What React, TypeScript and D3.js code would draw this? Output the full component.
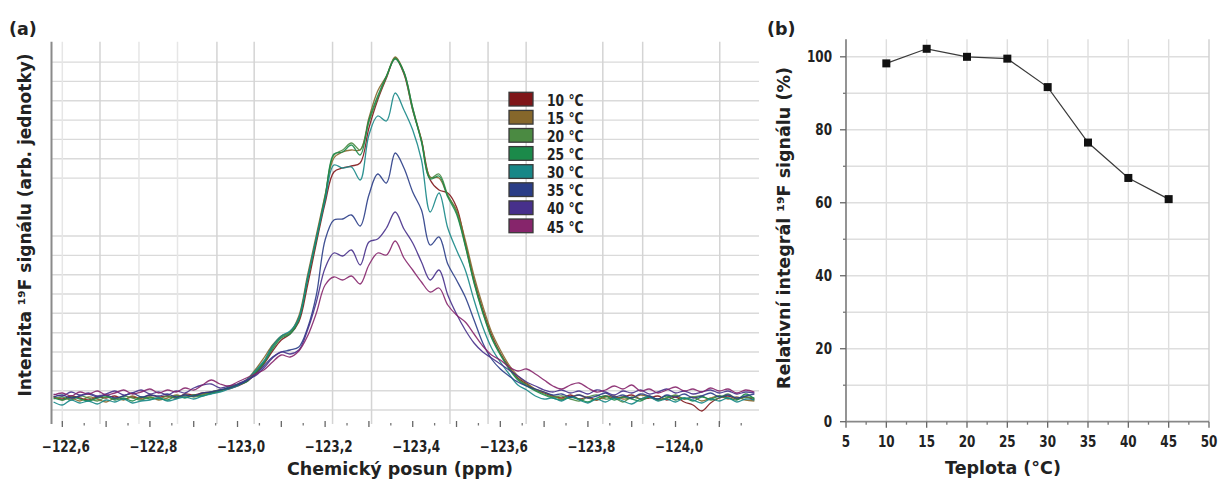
import React, { useEffect, useRef } from "react";
import * as d3 from "d3";

const W = 1220;
const H = 483;
const FONT = "'DejaVu Sans', Verdana, sans-serif";

// (a) 19F spectra, chemical shift (ppm), intensity in arb. units
const shifts = [
  -122.58, -122.6, -122.62, -122.64, -122.66, -122.68, -122.7, -122.72, -122.74, -122.76,
  -122.78, -122.8, -122.82, -122.84, -122.86, -122.88, -122.9, -122.92, -122.94, -122.96,
  -122.98, -123.0, -123.02, -123.04, -123.06, -123.08, -123.1, -123.12, -123.14, -123.16,
  -123.18, -123.2, -123.22, -123.24, -123.26, -123.28, -123.3, -123.32, -123.34, -123.36,
  -123.38, -123.4, -123.42, -123.44, -123.46, -123.48, -123.5, -123.52, -123.54, -123.56,
  -123.58, -123.6, -123.62, -123.64, -123.66, -123.68, -123.7, -123.72, -123.74, -123.76,
  -123.78, -123.8, -123.82, -123.84, -123.86, -123.88, -123.9, -123.92, -123.94, -123.96,
  -123.98, -124.0, -124.02, -124.04, -124.06, -124.08, -124.1, -124.12, -124.14, -124.16,
  -124.18,
];

const int10 = [
  27, 25, 28, 26, 24, 27, 26, 28, 25, 27, 26, 29, 27, 28, 26, 30, 29, 31, 32, 34, 35, 38,
  42, 50, 60, 73, 84, 90, 102, 139, 181, 221, 252, 256, 258, 261, 296, 324, 346, 366, 350, 314,
  284, 244, 234, 231, 217, 181, 144, 114, 89, 71, 57, 46, 40, 34, 31, 28,
  26, 29, 25, 27, 24, 28, 26, 27, 29, 25, 26, 28, 24, 27, 22, 19, 13, 21, 26, 28, 25, 27, 24,
];
const int15 = [
  28, 24, 26, 23, 27, 25, 22, 26, 24, 28, 25, 27, 24, 26, 29, 27, 28, 30, 31, 33, 36, 39,
  44, 54, 66, 79, 88, 92, 108, 149, 189, 229, 266, 272, 274, 274, 306, 333, 348, 367, 352, 316,
  284, 247, 246, 228, 214, 184, 148, 118, 92, 74, 59, 48, 41, 35, 32, 28,
  25, 27, 29, 26, 24, 27, 28, 25, 26, 29, 27, 24, 26, 28, 25, 27, 23, 26, 28, 25, 27, 24, 23,
];
const int20 = [
  25, 27, 24, 28, 26, 23, 27, 25, 28, 26, 24, 27, 25, 28, 26, 29, 27, 29, 32, 34, 36, 40,
  43, 52, 62, 77, 87, 91, 106, 146, 186, 228, 269, 274, 281, 274, 302, 326, 347, 366, 351, 314,
  283, 246, 250, 229, 212, 179, 142, 112, 87, 70, 56, 45, 39, 34, 30, 27,
  28, 25, 23, 27, 29, 25, 26, 22, 27, 25, 28, 24, 26, 29, 25, 27, 28, 24, 26, 30, 25, 27, 26,
];
const int25 = [
  26, 24, 27, 25, 23, 26, 28, 24, 26, 23, 27, 25, 26, 24, 28, 26, 29, 28, 31, 33, 37, 39,
  42, 51, 61, 75, 86, 90, 104, 144, 184, 226, 270, 272, 279, 269, 304, 328, 348, 365, 352, 316,
  282, 245, 248, 227, 210, 178, 141, 111, 86, 69, 55, 44, 38, 33, 29, 26,
  24, 27, 25, 22, 26, 28, 24, 27, 25, 23, 27, 25, 28, 24, 26, 23, 27, 25, 28, 26, 24, 30, 25,
];
const int30 = [
  22, 19, 24, 21, 23, 20, 24, 22, 25, 21, 23, 24, 26, 23, 25, 27, 25, 28, 30, 32, 35, 38,
  44, 53, 63, 78, 88, 93, 106, 146, 186, 224, 259, 256, 257, 244, 289, 308, 303, 331, 314, 294,
  264, 212, 231, 196, 174, 154, 124, 97, 76, 62, 50, 39, 34, 28, 25, 26,
  23, 27, 24, 21, 25, 22, 26, 23, 20, 25, 27, 23, 25, 22, 26, 24, 21, 25, 23, 26, 22, 25, 24,
];
const int35 = [
  27, 29, 26, 28, 30, 27, 29, 26, 28, 31, 27, 29, 28, 30, 27, 29, 28, 31, 32, 34, 36, 39,
  43, 49, 58, 67, 72, 74, 77, 96, 129, 184, 204, 205, 209, 198, 229, 250, 241, 271, 256, 232,
  214, 179, 187, 160, 144, 127, 104, 81, 65, 55, 48, 42, 38, 35, 32, 29,
  30, 27, 29, 26, 28, 31, 27, 29, 26, 30, 28, 25, 29, 27, 30, 26, 28, 31, 27, 29, 26, 28, 30,
];
const int40 = [
  30, 28, 32, 29, 31, 28, 30, 33, 29, 31, 34, 30, 32, 29, 33, 31, 36, 39, 40, 36, 38, 40,
  44, 48, 56, 66, 72, 70, 74, 94, 122, 156, 171, 168, 174, 159, 182, 185, 196, 212, 195, 181,
  162, 144, 154, 129, 110, 94, 81, 72, 66, 60, 54, 48, 42, 38, 34, 32,
  34, 31, 33, 30, 34, 32, 29, 33, 31, 34, 30, 32, 35, 31, 33, 30, 32, 34, 31, 33, 30, 32, 31,
];
const int45 = [
  29, 31, 28, 32, 30, 33, 29, 31, 34, 30, 32, 35, 31, 34, 32, 36, 34, 39, 44, 40, 38, 42,
  46, 50, 54, 62, 69, 67, 73, 88, 111, 139, 147, 144, 148, 140, 159, 171, 169, 183, 166, 154,
  142, 132, 136, 119, 109, 102, 90, 78, 69, 64, 57, 53, 55, 50, 44, 38,
  35, 39, 41, 36, 32, 34, 38, 35, 39, 33, 35, 31, 34, 37, 33, 35, 32, 36, 33, 35, 31, 34, 32,
];

const seriesLabels = ["10 °C", "15 °C", "20 °C", "25 °C", "30 °C", "35 °C", "40 °C", "45 °C"];
const seriesColors = ["#7f1619", "#86672b", "#4b8a42", "#1b8a4a", "#178787", "#2a3d87", "#47308b", "#86256b"];
const spectra = [int10, int15, int20, int25, int30, int35, int40, int45];

const shiftLabelTicks = [-122.6, -122.8, -123.0, -123.2, -123.4, -123.6, -123.8, -124.0];
const shiftMajorTicks = [
  -122.6, -122.7, -122.8, -122.9, -123.0, -123.1, -123.2, -123.3,
  -123.4, -123.5, -123.6, -123.7, -123.8, -123.9, -124.0, -124.1,
];
const shiftMinorTicks = [
  -122.65, -122.75, -122.85, -122.95, -123.05, -123.15, -123.25, -123.35,
  -123.45, -123.55, -123.65, -123.75, -123.85, -123.95, -124.05, -124.15,
];
const shiftGrid = [
  -122.6, -122.686, -122.775, -122.863, -122.953, -123.038, -123.217,
  -123.306, -123.485, -123.572, -123.659, -123.834, -123.925, -124.101,
];
const intensityGrid = [
  14, 33.3, 52.7, 72, 91.3, 110.7, 130, 149.3, 168.6, 188,
  245.9, 265.3, 284.6, 303.9, 323.3, 342.6, 361.9,
];

// (b) relative integral vs temperature
const temps = [10, 15, 20, 25, 30, 35, 40, 45];
const relIntegral = [98.2, 102.2, 100.0, 99.5, 91.7, 76.5, 66.8, 61.0];
const tempTicks = [5, 10, 15, 20, 25, 30, 35, 40, 45, 50];
const tempMinor = [7.5, 12.5, 17.5, 22.5, 27.5, 32.5, 37.5, 42.5, 47.5];
const pctTicks = [0, 20, 40, 60, 80, 100];
const pctMinor = [10, 30, 50, 70, 90];
const pctGrid = [10, 20, 30, 40, 50, 60, 70, 80, 90, 100];
const tempGrid = [10, 15, 20, 25, 30, 35, 40, 45, 50];

const czFormat = d3.formatLocale({
  decimal: ",",
  thousands: " ",
  grouping: [3],
  currency: ["", ""],
  minus: "\u2212",
}).format(".1f");

export default function App() {
  const svgRef = useRef<SVGSVGElement>(null);

  useEffect(() => {
    document.body.style.margin = "0";
    const svg = d3.select(svgRef.current);
    svg.selectAll("*").remove();

    // ---------- panel (a) ----------
    const x = d3.scaleLinear().domain([-122.5753, -124.1906]).range([51.5, 759]);
    const y = d3.scaleLinear().domain([0, 382.3]).range([424, 41.7]);
    const top = 41.7;
    const bottom = 424;

    const ga = svg.append("g");

    ga.selectAll("line.hg")
      .data(intensityGrid)
      .join("line")
      .attr("x1", 51.5)
      .attr("x2", 759)
      .attr("y1", (d) => y(d))
      .attr("y2", (d) => y(d))
      .attr("stroke", "#dadada")
      .attr("stroke-width", 1.4);

    ga.selectAll("line.vg")
      .data(shiftGrid)
      .join("line")
      .attr("x1", (d) => x(d))
      .attr("x2", (d) => x(d))
      .attr("y1", top)
      .attr("y2", bottom)
      .attr("stroke", (_, i) => (i === 0 || i === 2 || i === 3 ? "#e6e6e6" : "#d4d4d4"))
      .attr("stroke-width", 1.5);

    ga.append("line")
      .attr("x1", 51.5)
      .attr("x2", 51.5)
      .attr("y1", top)
      .attr("y2", bottom)
      .attr("stroke", "#8a8a8a")
      .attr("stroke-width", 2);

    ga.selectAll("line.maj")
      .data(shiftMajorTicks)
      .join("line")
      .attr("x1", (d) => x(d))
      .attr("x2", (d) => x(d))
      .attr("y1", 421)
      .attr("y2", 427)
      .attr("stroke", "#666")
      .attr("stroke-width", 1.3);

    ga.selectAll("line.min")
      .data(shiftMinorTicks)
      .join("line")
      .attr("x1", (d) => x(d))
      .attr("x2", (d) => x(d))
      .attr("y1", 423)
      .attr("y2", 425.5)
      .attr("stroke", "#777")
      .attr("stroke-width", 1.3);

    ga.selectAll("text.tl")
      .data(shiftLabelTicks)
      .join("text")
      .attr("transform", (d) => `translate(${x(d) + 3.5},451.5) scale(0.8,1)`)
      .attr("text-anchor", "middle")
      .attr("font-family", FONT)
      .attr("font-weight", "bold")
      .attr("font-size", 15)
      .attr("fill", "#222")
      .text((d) => czFormat(d));

    const line = d3
      .line<number>()
      .x((_, i) => x(shifts[i]))
      .y((d) => y(d))
      .curve(d3.curveCatmullRom);

    spectra.forEach((s, k) => {
      ga.append("path")
        .attr("d", line(s))
        .attr("fill", "none")
        .attr("stroke", seriesColors[k])
        .attr("stroke-width", 1.3)
        .attr("stroke-opacity", 0.9);
    });

    // legend
    const lg = ga.append("g");
    seriesLabels.forEach((lab, k) => {
      const ty = 92.3 + 18.1 * k;
      lg.append("rect")
        .attr("x", 509)
        .attr("y", ty)
        .attr("width", 24)
        .attr("height", 13.7)
        .attr("fill", seriesColors[k])
        .attr("stroke", "#3a3a3a")
        .attr("stroke-width", 1.3);
      lg.append("text")
        .attr("transform", `translate(547,${ty + 13.5}) scale(0.82,1)`)
        .attr("font-family", FONT)
        .attr("font-weight", "bold")
        .attr("font-size", 15)
        .attr("fill", "#222")
        .text(lab);
    });

    ga.append("text")
      .attr("x", 400)
      .attr("y", 475)
      .attr("text-anchor", "middle")
      .attr("font-family", FONT)
      .attr("font-weight", "bold")
      .attr("font-size", 17.5)
      .attr("fill", "#222")
      .text("Chemický posun (ppm)");

    ga.append("text")
      .attr("transform", "translate(31,225) rotate(-90)")
      .attr("text-anchor", "middle")
      .attr("font-family", FONT)
      .attr("font-weight", "bold")
      .attr("font-size", 17)
      .attr("fill", "#222")
      .text("Intenzita ¹⁹F signálu (arb. jednotky)");

    ga.append("text")
      .attr("x", 9)
      .attr("y", 35)
      .attr("font-family", FONT)
      .attr("font-weight", "bold")
      .attr("font-size", 17.5)
      .attr("fill", "#222")
      .text("(a)");

    // ---------- panel (b) ----------
    const xb = d3.scaleLinear().domain([5, 50]).range([846, 1209]);
    const yb = d3.scaleLinear().domain([0, 104.8]).range([421.7, 39.3]);
    const gb = svg.append("g");

    gb.selectAll("line.hg")
      .data(pctGrid)
      .join("line")
      .attr("x1", xb(5))
      .attr("x2", xb(50))
      .attr("y1", (d) => yb(d))
      .attr("y2", (d) => yb(d))
      .attr("stroke", "#dedede")
      .attr("stroke-width", 1.4);

    gb.selectAll("line.vg")
      .data(tempGrid)
      .join("line")
      .attr("x1", (d) => xb(d))
      .attr("x2", (d) => xb(d))
      .attr("y1", yb(104.8))
      .attr("y2", yb(0))
      .attr("stroke", (d) => (d === 50 ? "#cfcfcf" : "#dedede"))
      .attr("stroke-width", 1.4);

    gb.append("line")
      .attr("x1", xb(5))
      .attr("x2", xb(5))
      .attr("y1", yb(104.8))
      .attr("y2", yb(0))
      .attr("stroke", "#888")
      .attr("stroke-width", 1.8);
    gb.append("line")
      .attr("x1", xb(5))
      .attr("x2", xb(50))
      .attr("y1", yb(0))
      .attr("y2", yb(0))
      .attr("stroke", "#888")
      .attr("stroke-width", 1.8);

    gb.selectAll("line.yt")
      .data(pctTicks)
      .join("line")
      .attr("x1", xb(5) - 6)
      .attr("x2", xb(5))
      .attr("y1", (d) => yb(d))
      .attr("y2", (d) => yb(d))
      .attr("stroke", "#666")
      .attr("stroke-width", 1.3);
    gb.selectAll("line.ym")
      .data(pctMinor)
      .join("line")
      .attr("x1", xb(5) - 3)
      .attr("x2", xb(5))
      .attr("y1", (d) => yb(d))
      .attr("y2", (d) => yb(d))
      .attr("stroke", "#777")
      .attr("stroke-width", 1.3);
    gb.selectAll("line.xt")
      .data(tempTicks)
      .join("line")
      .attr("x1", (d) => xb(d))
      .attr("x2", (d) => xb(d))
      .attr("y1", yb(0))
      .attr("y2", yb(0) + 6)
      .attr("stroke", "#666")
      .attr("stroke-width", 1.3);
    gb.selectAll("line.xm")
      .data(tempMinor)
      .join("line")
      .attr("x1", (d) => xb(d))
      .attr("x2", (d) => xb(d))
      .attr("y1", yb(0))
      .attr("y2", yb(0) + 3)
      .attr("stroke", "#777")
      .attr("stroke-width", 1.3);

    gb.selectAll("text.yl")
      .data(pctTicks)
      .join("text")
      .attr("transform", (d) => `translate(832,${yb(d) + 5.5}) scale(0.8,1)`)
      .attr("text-anchor", "end")
      .attr("font-family", FONT)
      .attr("font-weight", "bold")
      .attr("font-size", 15)
      .attr("fill", "#222")
      .text((d) => d);
    gb.selectAll("text.xl")
      .data(tempTicks)
      .join("text")
      .attr("transform", (d) => `translate(${xb(d)},446.5) scale(0.8,1)`)
      .attr("text-anchor", "middle")
      .attr("font-family", FONT)
      .attr("font-weight", "bold")
      .attr("font-size", 15)
      .attr("fill", "#222")
      .text((d) => d);

    const lineB = d3
      .line<number>()
      .x((_, i) => xb(temps[i]))
      .y((d) => yb(d));
    gb.append("path")
      .attr("d", lineB(relIntegral))
      .attr("fill", "none")
      .attr("stroke", "#3a3a3a")
      .attr("stroke-width", 1.2);
    gb.selectAll("rect.pt")
      .data(relIntegral)
      .join("rect")
      .attr("x", (_, i) => xb(temps[i]) - 4)
      .attr("y", (d) => yb(d) - 4)
      .attr("width", 8)
      .attr("height", 8)
      .attr("fill", "#111");

    gb.append("text")
      .attr("x", 1003)
      .attr("y", 474)
      .attr("text-anchor", "middle")
      .attr("font-family", FONT)
      .attr("font-weight", "bold")
      .attr("font-size", 17.5)
      .attr("fill", "#222")
      .text("Teplota (°C)");

    gb.append("text")
      .attr("transform", "translate(790,228) rotate(-90)")
      .attr("text-anchor", "middle")
      .attr("font-family", FONT)
      .attr("font-weight", "bold")
      .attr("font-size", 17.5)
      .attr("fill", "#222")
      .text("Relativní integrál ¹⁹F signálu (%)");

    gb.append("text")
      .attr("x", 767)
      .attr("y", 35)
      .attr("font-family", FONT)
      .attr("font-weight", "bold")
      .attr("font-size", 17.5)
      .attr("fill", "#222")
      .text("(b)");
  }, []);

  return <svg ref={svgRef} width={W} height={H} style={{ display: "block", background: "#fff" }} />;
}
